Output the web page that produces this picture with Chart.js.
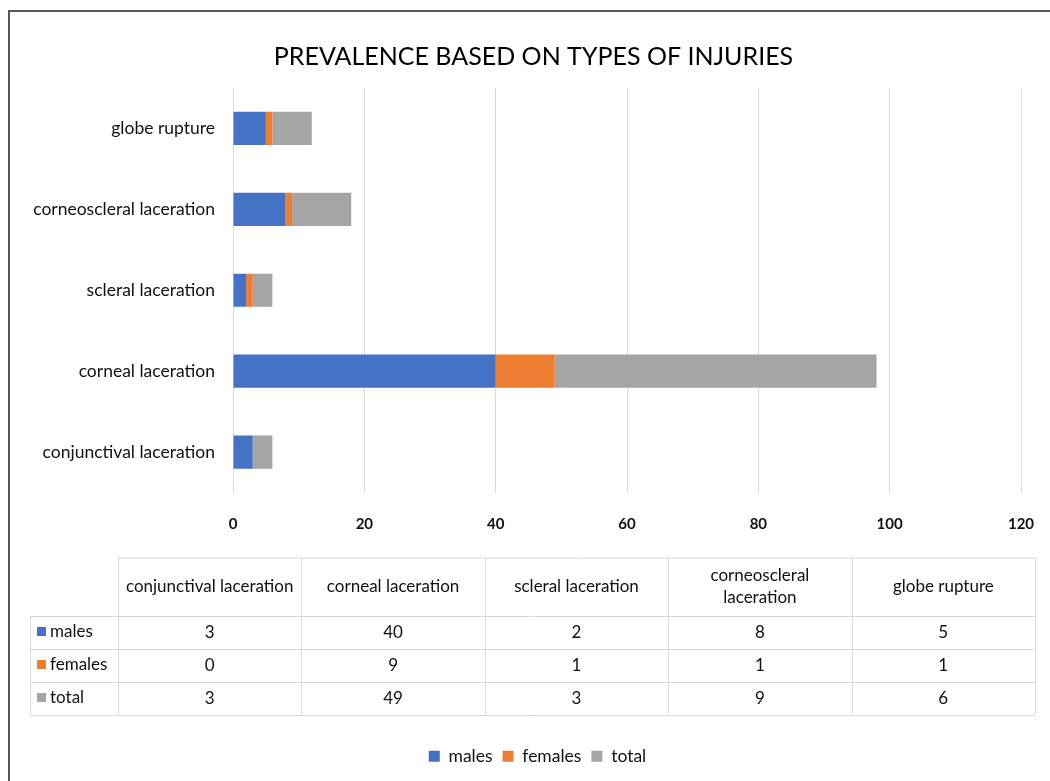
<!DOCTYPE html>
<html>
<head>
<meta charset="utf-8">
<title>Prevalence based on types of injuries</title>
<script src="https://cdn.jsdelivr.net/npm/chart.js@4"></script>
<style>
  html,body{margin:0;padding:0;background:#fff;}
  #wrap{position:relative;width:1050px;height:781px;overflow:hidden;}
  #frame{position:absolute;left:8px;top:10px;width:1100px;height:800px;border-left:2px solid #595959;border-top:2px solid #595959;}
  canvas{position:absolute;left:0;top:0;}
</style>
</head>
<body>
<div id="wrap">
  <div id="frame"></div>
  <canvas id="injuryChart" width="1050" height="781"></canvas>
</div>
<script>
// data
const categories = ["conjunctival laceration", "corneal laceration", "scleral laceration", "corneoscleral laceration", "globe rupture"];
const males   = [3, 40, 2, 8, 5];
const females = [0, 9, 1, 1, 1];
const total   = [3, 49, 3, 9, 6];
const xTicks  = [0, 20, 40, 60, 80, 100, 120];

const COLORS = { males: "#4472C4", females: "#ED7D31", total: "#A5A5A5" };
const FONT = "Lato, 'Open Sans', 'Noto Sans', sans-serif";
const TEXT = "#111";
const GRID = "#d9d9d9";

// Excel centres title + legend on the whole frame, not on the canvas box
const shiftBlocks = {
  id: "shiftBlocks",
  afterLayout(chart) {
    if (chart.titleBlock) { chart.titleBlock.left += 23; chart.titleBlock.right += 23; }
    if (chart.legend) { chart.legend.left += 27; chart.legend.right += 27; }
  }
};

// data table under the axis (Excel style)
const dataTable = {
  id: "dataTable",
  afterDraw(chart) {
    const ctx = chart.ctx;
    const area = chart.chartArea;
    const left = 30, right = 1035;
    const firstCol = 88;
    const colW = (right - left - firstCol) / categories.length;
    const top = area.bottom + 65;
    const headH = 58, rowH = 33;
    const rows = chart.data.datasets;

    ctx.save();
    ctx.strokeStyle = GRID;
    ctx.lineWidth = 1;
    const bottom = top + headH + rowH * rows.length;
    // horizontal lines
    ctx.beginPath();
    ctx.moveTo(left + firstCol, top + 0.5); ctx.lineTo(right, top + 0.5);
    for (let r = 0; r <= rows.length; r++) {
      const y = Math.round(top + headH + rowH * r) + 0.5;
      ctx.moveTo(left, y); ctx.lineTo(right, y);
    }
    // vertical lines
    ctx.moveTo(left + 0.5, top + headH); ctx.lineTo(left + 0.5, bottom);
    for (let c = 0; c <= categories.length; c++) {
      const x = Math.round(left + firstCol + colW * c) + 0.5;
      ctx.moveTo(x, top); ctx.lineTo(x, bottom);
    }
    ctx.stroke();

    ctx.fillStyle = TEXT;
    ctx.font = "17px " + FONT;
    ctx.textAlign = "center";
    ctx.textBaseline = "middle";
    // header, wrapped like Excel does
    categories.forEach((cat, c) => {
      const cx = left + firstCol + colW * (c + 0.5);
      const lines = [];
      let cur = "";
      cat.split(" ").forEach(w => {
        const test = cur ? cur + " " + w : w;
        if (cur && ctx.measureText(test).width > colW - 8) { lines.push(cur); cur = w; }
        else cur = test;
      });
      lines.push(cur);
      const lh = 22;
      const cy = top + headH / 2 - (lines.length - 1) * lh / 2;
      lines.forEach((ln, i) => ctx.fillText(ln, cx, cy + i * lh));
    });
    // body rows
    rows.forEach((ds, r) => {
      const cy = top + headH + rowH * (r + 0.5);
      ctx.fillStyle = ds.backgroundColor;
      ctx.fillRect(left + 7, cy - 5, 9, 9);
      ctx.fillStyle = TEXT;
      ctx.textAlign = "left";
      ctx.fillText(ds.label, left + 20, cy);
      ctx.textAlign = "center";
      ds.data.forEach((v, c) => {
        ctx.fillText(String(v), left + firstCol + colW * (c + 0.5), cy + 1);
      });
    });
    ctx.restore();
  }
};

new Chart(document.getElementById("injuryChart"), {
  type: "bar",
  data: {
    labels: categories,
    datasets: [
      { label: "males", data: males, backgroundColor: COLORS.males },
      { label: "females", data: females, backgroundColor: COLORS.females },
      { label: "total", data: total, backgroundColor: COLORS.total }
    ]
  },
  options: {
    indexAxis: "y",
    responsive: false,
    animation: false,
    layout: { padding: { top: 26, right: 29, bottom: 6, left: 0 } },
    datasets: { bar: { categoryPercentage: 1, barPercentage: 0.41, borderWidth: 0 } },
    scales: {
      x: {
        stacked: true,
        min: 0, max: 120,
        afterBuildTicks: s => { s.ticks = xTicks.map(v => ({ value: v })); },
        afterFit: s => { s.height = 245; s.paddingLeft = 0; s.paddingRight = 0; },
        grid: { color: GRID, drawTicks: false },
        border: { display: false },
        ticks: { color: TEXT, padding: 23, font: { family: FONT, size: 15, weight: "bold" } }
      },
      y: {
        stacked: true,
        reverse: true,
        afterFit: s => { s.width = 233; },
        grid: { display: false, drawTicks: false },
        border: { display: false },
        ticks: { color: TEXT, padding: 18, font: { family: FONT, size: 17.5 } }
      }
    },
    plugins: {
      title: {
        display: true,
        text: "PREVALENCE BASED ON TYPES OF INJURIES",
        color: "#000",
        font: { family: FONT, size: 25, weight: "normal" },
        padding: { top: 16, bottom: 16 }
      },
      legend: {
        position: "bottom",
        labels: { color: TEXT, boxWidth: 11, boxHeight: 11, padding: 10, font: { family: FONT, size: 17.5 } }
      },
      tooltip: { enabled: false }
    }
  },
  plugins: [shiftBlocks, dataTable]
});
</script>
</body>
</html>
